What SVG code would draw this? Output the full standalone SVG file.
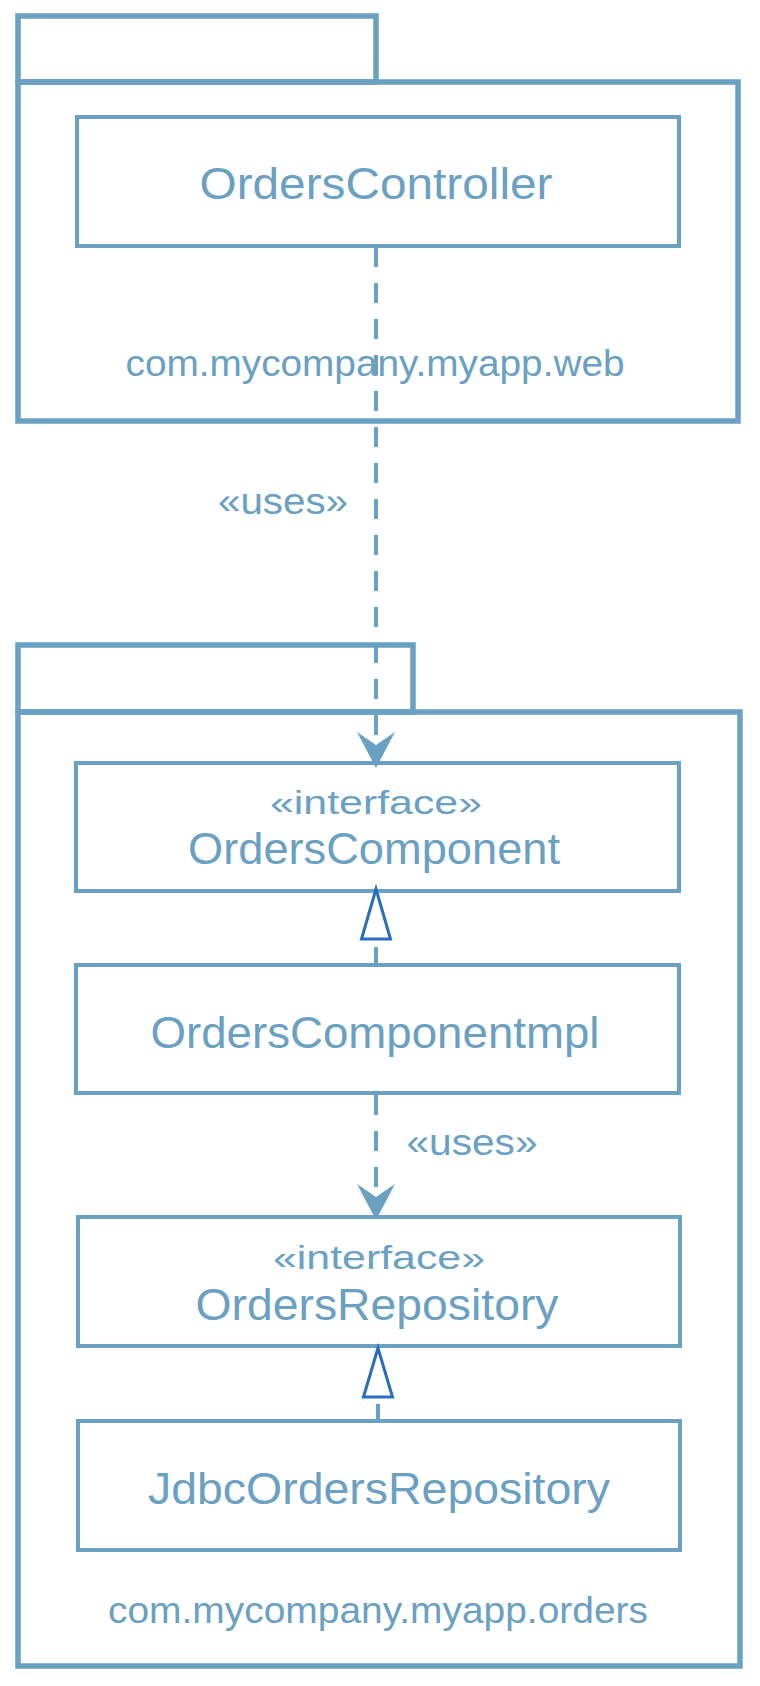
<svg xmlns="http://www.w3.org/2000/svg" width="760" height="1686" viewBox="0 0 760 1686">
<defs>
<style>
.pkg{fill:none;stroke:#6aa0c2;stroke-width:5.5}
.box{fill:#ffffff;stroke:#6aa0c2;stroke-width:4}
.t{font-family:"Liberation Sans",Arial,sans-serif;fill:#6aa0c2;text-anchor:middle}
.name{font-size:44px}
.st{font-size:34px}
.lbl{font-size:37px}
.dash{fill:none;stroke:#6aa0c2;stroke-width:4;stroke-dasharray:20 16}
.arrow{fill:#6aa0c2;stroke:none}
.tri{fill:#ffffff;stroke:#2a6ebb;stroke-width:3;stroke-linejoin:miter}
</style>
</defs>
<rect width="760" height="1686" fill="#ffffff"/>
<g id="pkg-web">
<rect class="pkg" x="18" y="16" width="358" height="66"/>
<rect class="pkg" x="18" y="82" width="720" height="339"/>
<text class="t lbl" x="375" y="376" textLength="499" lengthAdjust="spacingAndGlyphs">com.mycompany.myapp.web</text>
</g>
<g id="pkg-orders">
<rect class="pkg" x="18" y="645" width="395" height="67"/>
<rect class="pkg" x="18" y="712" width="722" height="954"/>
<text class="t lbl" x="378" y="1623" textLength="540" lengthAdjust="spacingAndGlyphs">com.mycompany.myapp.orders</text>
</g>
<g id="OrdersController">
<rect class="box" x="77" y="117" width="602" height="129"/>
<text class="t name" x="376" y="199" textLength="353" lengthAdjust="spacingAndGlyphs">OrdersController</text>
</g>
<g id="OrdersComponent">
<rect class="box" x="76" y="763" width="603" height="128"/>
<text class="t st" x="376" y="814" textLength="212" lengthAdjust="spacingAndGlyphs">«interface»</text>
<text class="t name" x="374" y="864" textLength="372" lengthAdjust="spacingAndGlyphs">OrdersComponent</text>
</g>
<g id="OrdersComponentImpl">
<rect class="box" x="76" y="965" width="603" height="128"/>
<text class="t name" x="375" y="1048" textLength="449" lengthAdjust="spacingAndGlyphs">OrdersComponentmpl</text>
</g>
<g id="OrdersRepository">
<rect class="box" x="78" y="1217" width="602" height="129"/>
<text class="t st" x="379" y="1269" textLength="212" lengthAdjust="spacingAndGlyphs">«interface»</text>
<text class="t name" x="377" y="1320" textLength="363" lengthAdjust="spacingAndGlyphs">OrdersRepository</text>
</g>
<g id="JdbcOrdersRepository">
<rect class="box" x="78" y="1421" width="602" height="129"/>
<text class="t name" x="379" y="1504" textLength="462" lengthAdjust="spacingAndGlyphs">JdbcOrdersRepository</text>
</g>
<g id="connectors">
<path class="dash" d="M376 247 L376 746"/>
<path class="arrow" d="M376 768 L357 732 L376 745 L395 732 Z"/>
<text class="t lbl" x="283" y="514" textLength="130" lengthAdjust="spacingAndGlyphs">«uses»</text>
<path class="dash" d="M376 963 L376 947" style="stroke-dasharray:none"/>
<path class="tri" d="M376 889 L361.5 939 L390.5 939 Z"/>
<path class="dash" d="M376 1095 L376 1196"/>
<path class="arrow" d="M376 1220 L357 1184 L376 1197 L395 1184 Z"/>
<text class="t lbl" x="472" y="1155" textLength="131" lengthAdjust="spacingAndGlyphs">«uses»</text>
<path class="dash" d="M378 1419 L378 1404" style="stroke-dasharray:none"/>
<path class="tri" d="M378 1348 L363.5 1397 L392.5 1397 Z"/>
</g>
</svg>
